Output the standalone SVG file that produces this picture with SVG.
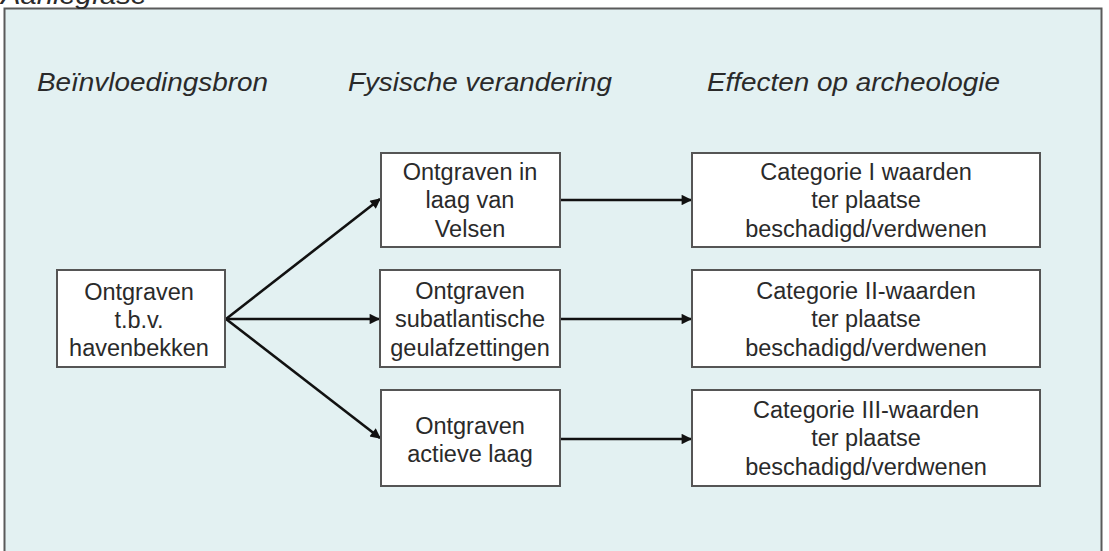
<svg xmlns="http://www.w3.org/2000/svg" width="1109" height="551" viewBox="0 0 1109 551">
  <defs>
    <style>
      .frame { fill: #e3f1f2; stroke: #5a5a5a; stroke-width: 2; }
      .box { fill: #ffffff; stroke: #555555; stroke-width: 2; }
      .hdr { font-family: "Liberation Sans", Arial, sans-serif; font-style: italic; font-size: 25px; fill: #2a2a2a; }
      .lbl { font-family: "Liberation Sans", Arial, sans-serif; font-size: 23.5px; fill: #2a2a2a; text-anchor: middle; }
      .conn { stroke: #111111; stroke-width: 2.6; fill: none; marker-end: url(#arrow); }
    </style>
    <marker id="arrow" viewBox="0 0 10 10" refX="9" refY="5" markerWidth="5" markerHeight="4" markerUnits="strokeWidth" orient="auto">
      <path d="M0,0 L10,5 L0,10 z" fill="#111111"/>
    </marker>
  </defs>

  <rect class="frame" x="4.5" y="8.5" width="1097" height="560"/>
  <text class="hdr" x="1" y="4" textLength="146" lengthAdjust="spacingAndGlyphs">Aanlegfase</text>

  <g id="headers">
    <text class="hdr" x="37" y="91" textLength="231" lengthAdjust="spacingAndGlyphs">Beïnvloedingsbron</text>
    <text class="hdr" x="348" y="91" textLength="264" lengthAdjust="spacingAndGlyphs">Fysische verandering</text>
    <text class="hdr" x="707" y="91" textLength="293" lengthAdjust="spacingAndGlyphs">Effecten op archeologie</text>
  </g>

  <g id="connectors">
    <line class="conn" x1="226" y1="319" x2="380" y2="199"/>
    <line class="conn" x1="226" y1="319" x2="379" y2="319"/>
    <line class="conn" x1="226" y1="319" x2="380" y2="438"/>
    <line class="conn" x1="561" y1="200" x2="691" y2="200"/>
    <line class="conn" x1="561" y1="319" x2="691" y2="319"/>
    <line class="conn" x1="561" y1="439" x2="691" y2="439"/>
  </g>

  <g id="node-bron">
    <rect class="box" x="57" y="270" width="168" height="97"/>
    <text class="lbl" x="139" y="300">Ontgraven</text>
    <text class="lbl" x="139" y="328">t.b.v.</text>
    <text class="lbl" x="139" y="356">havenbekken</text>
  </g>

  <g id="node-velsen">
    <rect class="box" x="381" y="153" width="179" height="94"/>
    <text class="lbl" x="470" y="180">Ontgraven in</text>
    <text class="lbl" x="470" y="208">laag van</text>
    <text class="lbl" x="470" y="237">Velsen</text>
  </g>

  <g id="node-subatlantisch">
    <rect class="box" x="380" y="270" width="180" height="97"/>
    <text class="lbl" x="470" y="299">Ontgraven</text>
    <text class="lbl" x="470" y="327">subatlantische</text>
    <text class="lbl" x="470" y="356">geulafzettingen</text>
  </g>

  <g id="node-actief">
    <rect class="box" x="381" y="390" width="179" height="96"/>
    <text class="lbl" x="470" y="434">Ontgraven</text>
    <text class="lbl" x="470" y="462">actieve laag</text>
  </g>

  <g id="node-cat1">
    <rect class="box" x="692" y="153" width="348" height="94"/>
    <text class="lbl" x="866" y="180">Categorie I waarden</text>
    <text class="lbl" x="866" y="208">ter plaatse</text>
    <text class="lbl" x="866" y="237">beschadigd/verdwenen</text>
  </g>

  <g id="node-cat2">
    <rect class="box" x="692" y="270" width="348" height="97"/>
    <text class="lbl" x="866" y="299">Categorie II-waarden</text>
    <text class="lbl" x="866" y="327">ter plaatse</text>
    <text class="lbl" x="866" y="356">beschadigd/verdwenen</text>
  </g>

  <g id="node-cat3">
    <rect class="box" x="692" y="390" width="348" height="96"/>
    <text class="lbl" x="866" y="418">Categorie III-waarden</text>
    <text class="lbl" x="866" y="446">ter plaatse</text>
    <text class="lbl" x="866" y="475">beschadigd/verdwenen</text>
  </g>
</svg>
